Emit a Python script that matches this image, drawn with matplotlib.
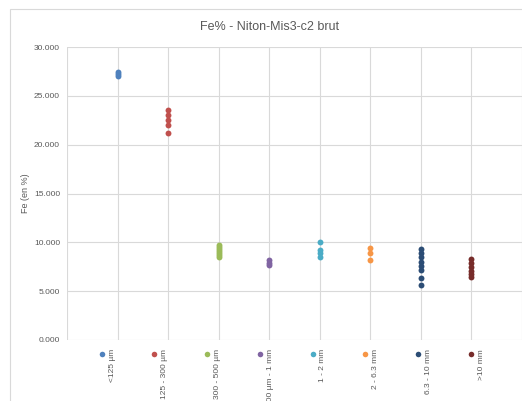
import matplotlib
matplotlib.use("Agg")
import matplotlib.pyplot as plt
from matplotlib.patches import Rectangle
from matplotlib.lines import Line2D

plt.rcParams['font.family'] = ['Liberation Sans', 'DejaVu Sans']

# Tranches granulométriques et teneurs en Fe (%)
categories = ["<125 µm", "125 - 300 µm", "300 - 500 µm", "500 µm - 1 mm",
              "1 - 2 mm", "2 - 6.3 mm", "6.3 - 10 mm", ">10 mm"]
fe_lt125 = [27.0, 27.2, 27.4]
fe_125_300 = [23.5, 23.0, 22.5, 22.0, 21.2]
fe_300_500 = [9.7, 9.5, 9.3, 9.1, 8.9, 8.7, 8.5]
fe_500_1mm = [8.2, 7.9, 7.7]
fe_1_2 = [10.0, 9.2, 8.9, 8.5]
fe_2_63 = [9.4, 8.9, 8.2]
fe_63_10 = [9.3, 8.9, 8.5, 8.0, 7.6, 7.2, 6.3, 5.6]
fe_gt10 = [8.3, 7.9, 7.5, 7.1, 6.8, 6.4]
series = [fe_lt125, fe_125_300, fe_300_500, fe_500_1mm,
          fe_1_2, fe_2_63, fe_63_10, fe_gt10]
colors = ["#4F81BD", "#C0504D", "#9BBB59", "#8064A2",
          "#4BACC6", "#F79646", "#2C4D75", "#772C2A"]
yticks = [0, 5, 10, 15, 20, 25, 30]

W, H = 522, 401
fig = plt.figure(figsize=(W / 100, H / 100), dpi=100)
ax = fig.add_axes([67 / W, 1 - 340 / H, 1 - 67 / W, (340 - 47) / H])

grey = "#595959"
for i, (vals, c) in enumerate(zip(series, colors)):
    ax.scatter([i + 1] * len(vals), vals, s=18, color=c, zorder=3, linewidths=0)

ax.set_xlim(0, 9)
ax.set_ylim(0, 30)
ax.set_xticks(range(0, 10))
ax.set_xticklabels([])
ax.set_yticks(yticks)
ax.set_yticklabels([f"{v:.3f}" for v in yticks], fontsize=6, color=grey)
ax.tick_params(length=0, pad=5)
ax.grid(True, color="#d9d9d9", linewidth=0.8)
ax.set_axisbelow(True)
for s in ax.spines.values():
    s.set_visible(False)

ax.set_ylabel("Fe (en %)", fontsize=6.5, color=grey, labelpad=3)
fig.text(270 / W, 1 - 27 / H, "Fe% - Niton-Mis3-c2 brut", fontsize=9,
         color=grey, ha="center", va="center")

# cadre du graphique
fig.patches.append(Rectangle((10 / W, -0.1), 1.2, 1 - 9 / H + 0.1,
                             transform=fig.transFigure, fill=False,
                             edgecolor="#d9d9d9", linewidth=0.8))

# légende en bas
for i, (lab, c) in enumerate(zip(categories, colors)):
    mx = (101.7 + i * 52.7) / W
    fig.lines.append(Line2D([mx], [1 - 354 / H], marker="o", markersize=4,
                            color=c, markeredgewidth=0,
                            transform=fig.transFigure))
    fig.text(mx + 10.5 / W, 1 - 349 / H, lab, rotation=90, fontsize=6,
             color=grey, ha="center", va="top")

fig.savefig("out.png", dpi=100)
